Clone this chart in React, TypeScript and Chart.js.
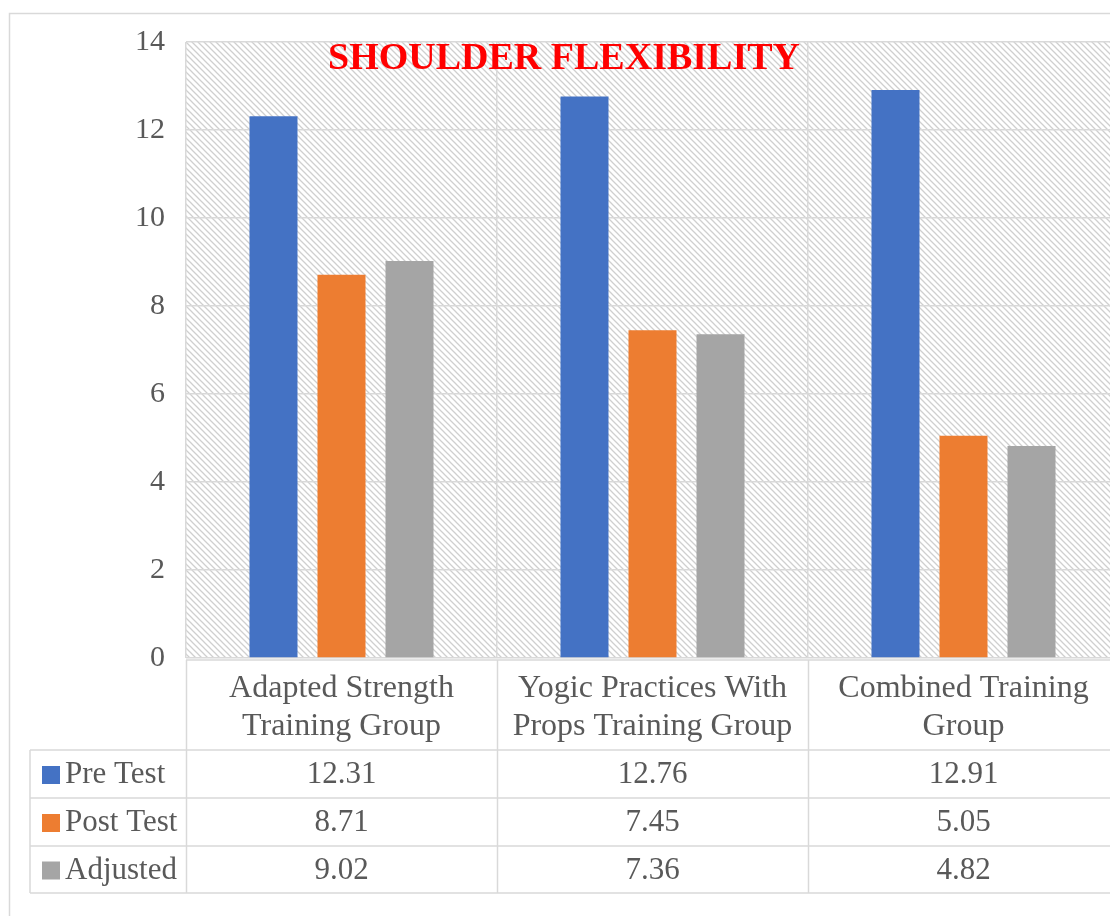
import React, { useEffect, useRef } from "react";
import { Chart, registerables } from "chart.js";

Chart.register(...registerables);

const categories: string[][] = [
  ["Adapted Strength", "Training Group"],
  ["Yogic Practices With", "Props Training Group"],
  ["Combined Training", "Group"],
];
const seriesNames = ["Pre Test", "Post Test", "Adjusted"];
const preTest = [12.31, 12.76, 12.91];
const postTest = [8.71, 7.45, 5.05];
const adjusted = [9.02, 7.36, 4.82];
const seriesColors = ["#4472C4", "#ED7D31", "#A5A5A5"];
const yMin = 0;
const yMax = 14;
const yStep = 2;
const titleText = "SHOULDER FLEXIBILITY";

const FONT = '"Liberation Serif", "Times New Roman", serif';
const TEXT = "#595959";
const GRID = "#d9d9d9";
const CW = 1140;
const CH = 916;

function makePattern(ctx: CanvasRenderingContext2D) {
  const s = 6;
  const c = document.createElement("canvas");
  c.width = s;
  c.height = s;
  const g = c.getContext("2d")!;
  g.fillStyle = "#ffffff";
  g.fillRect(0, 0, s, s);
  g.strokeStyle = "#cfcfcf";
  g.lineWidth = 1.3;
  g.beginPath();
  g.moveTo(-1, -1);
  g.lineTo(s + 1, s + 1);
  g.moveTo(s - 1, -1);
  g.lineTo(s + 1, 1);
  g.moveTo(-1, s - 1);
  g.lineTo(1, s + 1);
  g.stroke();
  return ctx.createPattern(c, "repeat");
}

const decorPlugin = {
  id: "decor",
  beforeDraw(chart: any) {
    const ctx = chart.ctx as CanvasRenderingContext2D;
    const a = chart.chartArea;
    ctx.save();
    ctx.fillStyle = "#ffffff";
    ctx.fillRect(0, 0, chart.width, chart.height);
    ctx.strokeStyle = GRID;
    ctx.lineWidth = 1.5;
    ctx.strokeRect(9.5, 13.5, chart.width + 50, chart.height + 50);
    const p = makePattern(ctx);
    if (p) {
      ctx.fillStyle = p;
      ctx.fillRect(a.left, a.top, a.right - a.left, a.bottom - a.top);
    }
    ctx.restore();
  },
  afterDraw(chart: any) {
    const ctx = chart.ctx as CanvasRenderingContext2D;
    const x = chart.scales.x;
    const a = chart.chartArea;
    const half = (x.getPixelForValue(1) - x.getPixelForValue(0)) / 2;
    const headerTop = 660;
    const rowTops = [750, 798, 846];
    const tableBottom = 893;
    const tableLeft = 30;
    ctx.save();
    ctx.strokeStyle = GRID;
    ctx.lineWidth = 1.5;
    ctx.beginPath();
    ctx.moveTo(a.left, headerTop);
    ctx.lineTo(chart.width, headerTop);
    [...rowTops, tableBottom].forEach((y) => {
      ctx.moveTo(tableLeft, y);
      ctx.lineTo(chart.width, y);
    });
    ctx.moveTo(tableLeft, rowTops[0]);
    ctx.lineTo(tableLeft, tableBottom);
    for (let i = 0; i <= categories.length; i++) {
      const bx = Math.round(x.getPixelForValue(0) - half + i * 2 * half) + 0.5;
      ctx.moveTo(bx, headerTop);
      ctx.lineTo(bx, tableBottom);
    }
    ctx.stroke();

    ctx.fillStyle = TEXT;
    ctx.font = `32px ${FONT}`;
    ctx.textAlign = "center";
    ctx.textBaseline = "middle";
    categories.forEach((lines, i) => {
      const cx = x.getPixelForValue(i);
      lines.forEach((ln, j) => {
        ctx.fillText(ln, cx, 689 + j * 38);
      });
    });
    ctx.font = `31px ${FONT}`;
    const series = [preTest, postTest, adjusted];
    series.forEach((vals, r) => {
      const cy = (rowTops[r] + (rowTops[r + 1] ?? tableBottom)) / 2 + 1;
      ctx.fillStyle = seriesColors[r];
      ctx.fillRect(42, cy - 9, 18, 18);
      ctx.fillStyle = TEXT;
      ctx.textAlign = "left";
      ctx.fillText(seriesNames[r], 65, cy);
      ctx.textAlign = "center";
      vals.forEach((v, i) => {
        ctx.fillText(v.toFixed(2), x.getPixelForValue(i), cy);
      });
    });

    ctx.fillStyle = "#FF0000";
    ctx.font = `bold 38px ${FONT}`;
    ctx.textAlign = "center";
    ctx.textBaseline = "alphabetic";
    ctx.fillText(titleText, 564, 69);
    ctx.restore();
  },
};

export default function App() {
  const ref = useRef<HTMLCanvasElement | null>(null);
  useEffect(() => {
    if (!ref.current) return;
    const chart = new Chart(ref.current, {
      type: "bar",
      data: {
        labels: categories.map((c) => c.join(" ")),
        datasets: [
          { label: seriesNames[0], data: preTest, backgroundColor: seriesColors[0] },
          { label: seriesNames[1], data: postTest, backgroundColor: seriesColors[1] },
          { label: seriesNames[2], data: adjusted, backgroundColor: seriesColors[2] },
        ],
      },
      options: {
        responsive: false,
        animation: false,
        devicePixelRatio: 1,
        layout: { padding: { top: 42, right: CW - 1119, left: 0, bottom: 0 } },
        datasets: { bar: { barPercentage: 0.706, categoryPercentage: 0.656 } },
        plugins: { legend: { display: false }, tooltip: { enabled: false }, title: { display: false } },
        scales: {
          x: {
            ticks: { display: false },
            grid: { color: GRID, lineWidth: 1.5, drawTicks: false, offset: true },
            border: { display: false },
            afterFit: (s: any) => {
              s.height = CH - 658 - 0;
            },
          },
          y: {
            min: yMin,
            max: yMax,
            ticks: {
              stepSize: yStep,
              padding: 21,
              color: TEXT,
              font: { family: FONT, size: 30 },
            },
            grid: { color: GRID, lineWidth: 1.5, drawTicks: false },
            border: { display: false },
            afterFit: (s: any) => {
              s.width = 186;
            },
          },
        },
      },
      plugins: [decorPlugin],
    });
    return () => chart.destroy();
  }, []);
  return (
    <div
      style={{
        position: "fixed",
        left: 0,
        top: 0,
        width: 1110,
        height: 916,
        overflow: "hidden",
        background: "#fff",
      }}
    >
      <canvas ref={ref} width={CW} height={CH} style={{ display: "block", width: CW, height: CH }} />
    </div>
  );
}
